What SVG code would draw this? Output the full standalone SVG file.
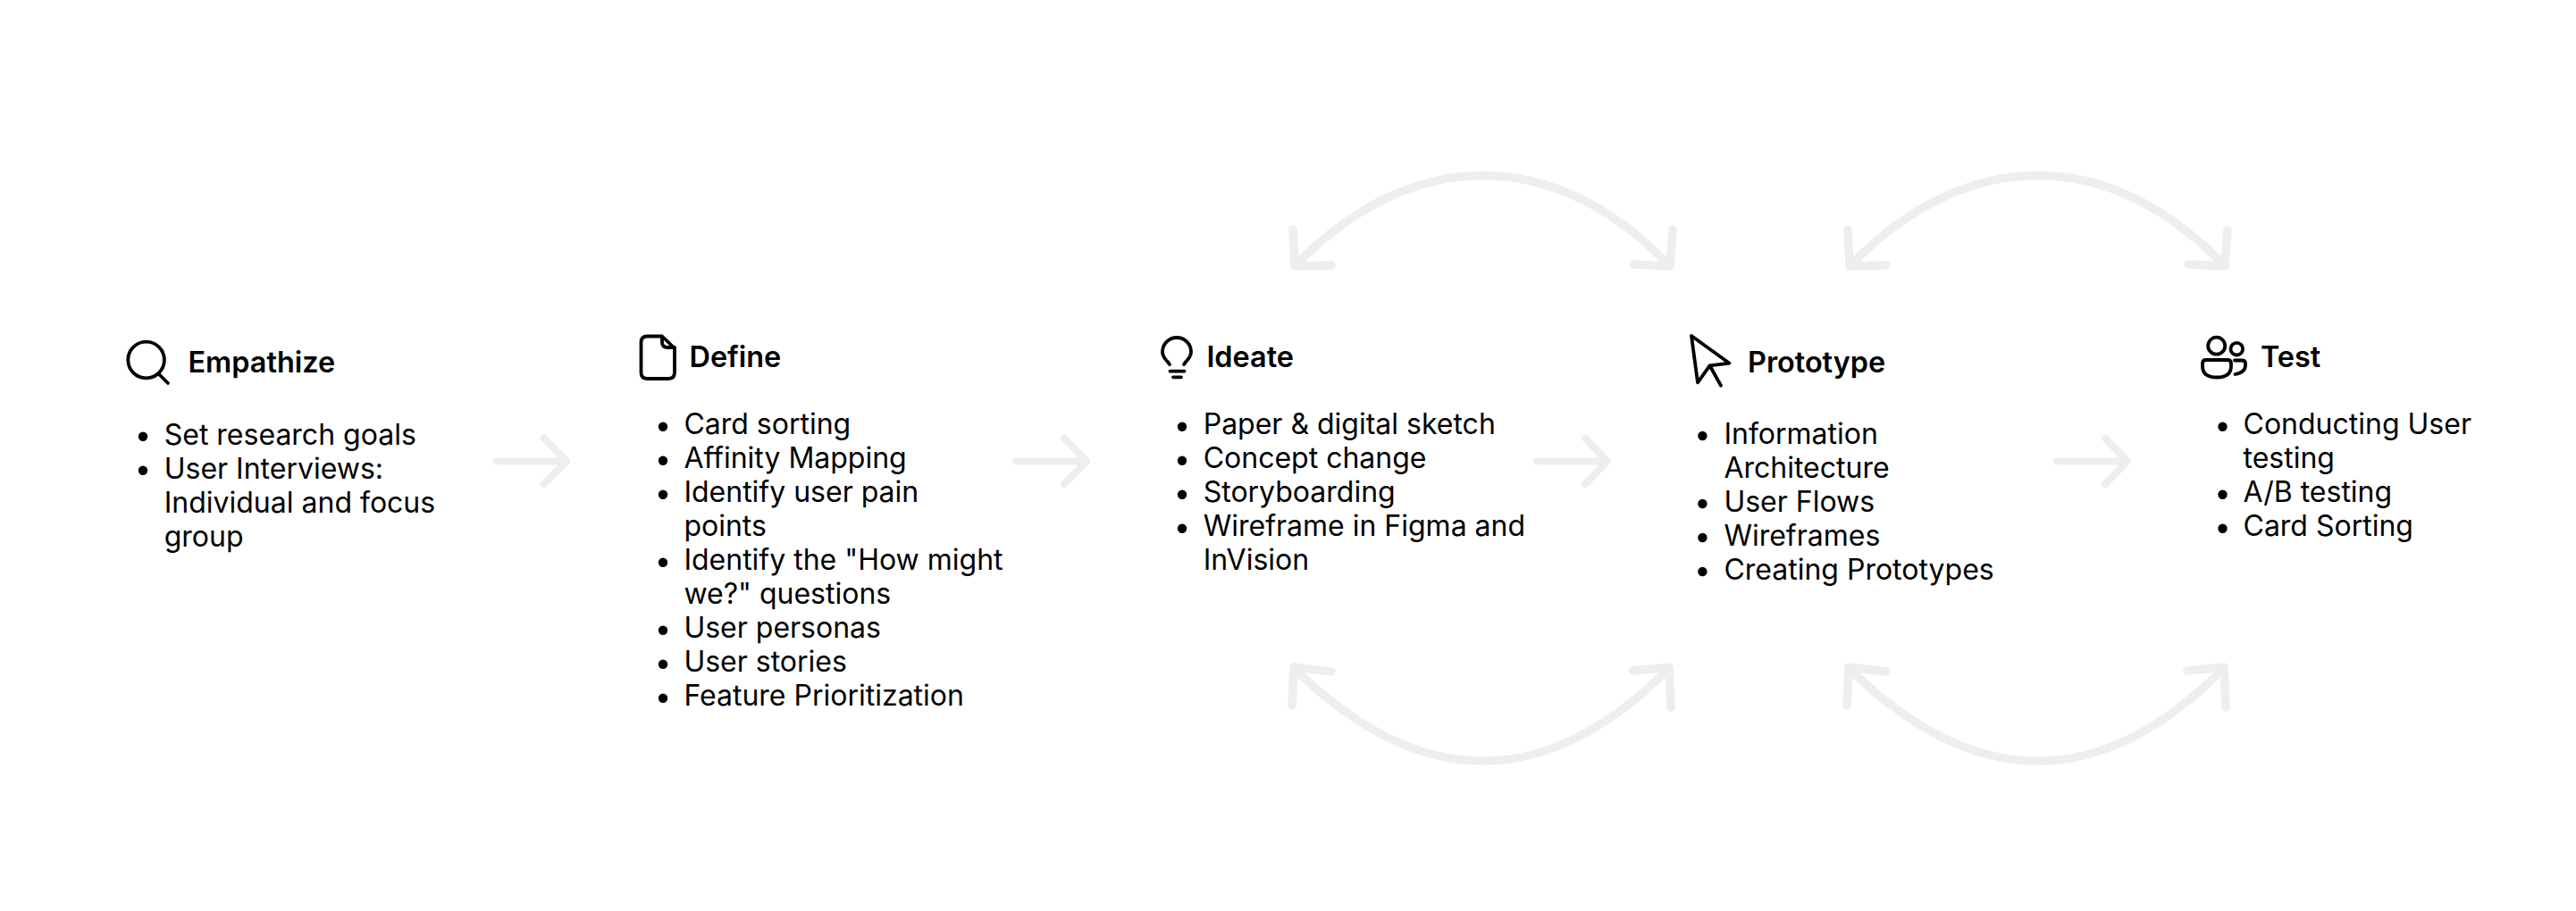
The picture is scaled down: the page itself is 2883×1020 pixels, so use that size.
<svg xmlns="http://www.w3.org/2000/svg" width="2883" height="1020" viewBox="0 0 2883 1020">
<style>
text{font-family:Inter,"Noto Sans",sans-serif;fill:#000}
.t{font-size:32.4px;font-weight:600}
.l{font-size:32px;font-weight:400}
.i{fill:none;stroke:#000;stroke-width:3.8;stroke-linecap:round;stroke-linejoin:round}
.a{fill:none;stroke:#eee;stroke-width:9.5;stroke-linecap:round;stroke-linejoin:round}
.s{fill:none;stroke:#eee;stroke-width:8;stroke-linecap:round;stroke-linejoin:round}
.b{fill:#000}
</style>
<rect width="2883" height="1020" fill="#fff"/>
<g id="connectors">
<path id="s1" class="s" d="M555.500 516.500H634M608.500 490.500L634 516.500L608.500 542"/>
<path id="s2" class="s" d="M1137 516.500H1216M1191 490.500L1216 516.500L1191 542"/>
<path id="s3" class="s" d="M1720 516.500H1799M1774 490.500L1799 516.500L1774 542"/>
<path id="s4" class="s" d="M2302 516.500H2381M2356 490.500L2381 516.500L2356 542"/>
<g id="top1">
<path class="a" d="M1450 297C1580 163 1740 163 1868 297"/>
<path class="a" d="M1447 257L1449 298L1490 297M1872 257L1869 298L1828 296"/>
</g>
<g id="top2">
<path class="a" d="M2071 297C2201 163 2361 163 2489 297"/>
<path class="a" d="M2068 257L2070 298L2111 297M2493 257L2490 298L2449 296"/>
</g>
<g id="bot1">
<path class="a" d="M1450 750C1590 886 1730 886 1866 750"/>
<path class="a" d="M1446 790L1448 747L1490 752M1870 792L1868 747L1827 751"/>
</g>
<g id="bot2">
<path class="a" d="M2071 750C2211 886 2351 886 2487 750"/>
<path class="a" d="M2067 790L2069 747L2111 752M2491 792L2489 747L2448 751"/>
</g>
</g>
<g id="empathize">
<circle class="i" cx="163.600" cy="403" r="20.300"/><path class="i" d="M177.500 418.500L188 429"/>
<text class="t" x="210.500" y="416.500">Empathize</text>
<circle class="b" cx="160" cy="488.700" r="5.200"/><circle class="b" cx="160" cy="526.700" r="5.200"/>
<text class="l" x="183.700" y="497.500">Set research goals</text>
<text class="l" x="183.700" y="535.500">User Interviews:</text>
<text class="l" x="183.700" y="573.500">Individual and focus</text>
<text class="l" x="183.700" y="611.500">group</text>
</g>
<g id="define">
<path class="i" d="M724.500 376.500H741L755 390V417Q755 424 748 424H724.500Q717.500 424 717.500 417V383.500Q717.500 376.500 724.500 376.500ZM741 376.500V383Q741 389 747 389H755"/>
<text class="t" x="771.500" y="411">Define</text>
<circle class="b" cx="742" cy="477.700" r="5.200"/><circle class="b" cx="742" cy="515.700" r="5.200"/><circle class="b" cx="742" cy="553.700" r="5.200"/><circle class="b" cx="742" cy="629.700" r="5.200"/><circle class="b" cx="742" cy="705.700" r="5.200"/><circle class="b" cx="742" cy="743.700" r="5.200"/><circle class="b" cx="742" cy="781.700" r="5.200"/>
<text class="l" x="765.400" y="486">Card sorting</text>
<text class="l" x="765.400" y="524">Affinity Mapping</text>
<text class="l" x="765.400" y="562">Identify user pain</text>
<text class="l" x="765.400" y="600">points</text>
<text class="l" x="765.400" y="638">Identify the "How might</text>
<text class="l" x="765.400" y="676">we?" questions</text>
<text class="l" x="765.400" y="714">User personas</text>
<text class="l" x="765.400" y="752">User stories</text>
<text class="l" x="765.400" y="790">Feature Prioritization</text>
</g>
<g id="ideate">
<path class="i" d="M1309 408C1306 403 1301 401 1301 394A16 16 0 0 1 1333 394C1333 401 1328 403 1325 408"/>
<path class="i" d="M1309.500 415.700H1325.500M1313 422.300H1322"/>
<text class="t" x="1350.400" y="411">Ideate</text>
<circle class="b" cx="1323" cy="477.700" r="5.200"/><circle class="b" cx="1323" cy="515.700" r="5.200"/><circle class="b" cx="1323" cy="553.700" r="5.200"/><circle class="b" cx="1323" cy="591.700" r="5.200"/>
<text class="l" x="1346.700" y="486">Paper &amp; digital sketch</text>
<text class="l" x="1346.700" y="524">Concept change</text>
<text class="l" x="1346.700" y="562">Storyboarding</text>
<text class="l" x="1346.700" y="600">Wireframe in Figma and</text>
<text class="l" x="1346.700" y="638">InVision</text>
</g>
<g id="prototype">
<path class="i" d="M1893 376L1935.500 406.700L1913.500 409.300L1900 428.300ZM1913.500 409.300L1926 431.700"/>
<text class="t" x="1956" y="417">Prototype</text>
<circle class="b" cx="1905.400" cy="488" r="5.200"/><circle class="b" cx="1905.400" cy="564" r="5.200"/><circle class="b" cx="1905.400" cy="602" r="5.200"/><circle class="b" cx="1905.400" cy="640" r="5.200"/>
<text class="l" x="1929.400" y="497">Information</text>
<text class="l" x="1929.400" y="535">Architecture</text>
<text class="l" x="1929.400" y="573">User Flows</text>
<text class="l" x="1929.400" y="611">Wireframes</text>
<text class="l" x="1929.400" y="649">Creating Prototypes</text>
</g>
<g id="test">
<circle class="i" cx="2480.700" cy="387.200" r="9.500"/><circle class="i" cx="2503.300" cy="390.700" r="6.800"/>
<path class="i" d="M2469 403H2493Q2497 403 2497 407V410Q2497 422.500 2481 422.500Q2465 422.500 2465 410V407Q2465 403 2469 403ZM2501 403.500H2509Q2513 403.500 2513 407V409Q2513 417 2501.500 419"/>
<text class="t" x="2530" y="411">Test</text>
<circle class="b" cx="2487.500" cy="477.700" r="5.200"/><circle class="b" cx="2487.500" cy="553.700" r="5.200"/><circle class="b" cx="2487.500" cy="591.700" r="5.200"/>
<text class="l" x="2510.500" y="486">Conducting User</text>
<text class="l" x="2510.500" y="524">testing</text>
<text class="l" x="2510.500" y="562">A/B testing</text>
<text class="l" x="2510.500" y="600">Card Sorting</text>
</g>
</svg>
